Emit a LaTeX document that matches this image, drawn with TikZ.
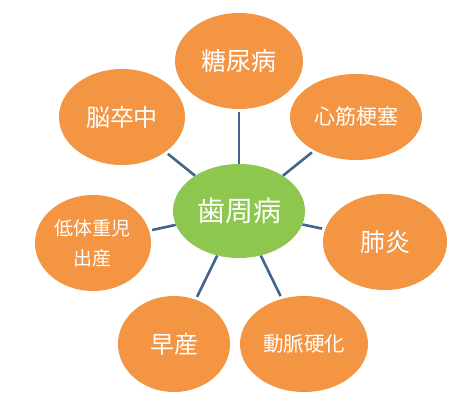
\documentclass[tikz,border=0pt]{standalone}
\usepackage{fontspec}
\newfontfamily\cjk{Noto Sans CJK JP}
\usetikzlibrary{shapes.geometric}
\definecolor{orng}{HTML}{F39543}
\definecolor{grn}{HTML}{8DC74F}
\definecolor{lnk}{HTML}{44648C}
\begin{document}
\begin{tikzpicture}[x=1pt,y=-1pt,
  blob/.style={ellipse, fill=orng, inner sep=0pt, text=white, align=center},
  hub/.style={ellipse, fill=grn, inner sep=0pt, text=white,
    minimum width=132pt, minimum height=94pt,
    font=\cjk\fontsize{28}{32}\selectfont},
  link/.style={draw=lnk, line width=2.6pt, shorten <=3pt}]
\fill[white] (0,0) rectangle (475,402);
\useasboundingbox (0,0) rectangle (475,402);
\node[hub] (c) at (239,211) {歯周病};
\node[blob, minimum width=128pt, minimum height=96pt, font=\cjk\fontsize{25}{30}\selectfont] (t) at (239,61) {糖尿病};
\node[blob, minimum width=126pt, minimum height=96pt, font=\cjk\fontsize{24}{30}\selectfont] (ul) at (122,117) {脳卒中};
\node[blob, minimum width=132pt, minimum height=86pt, font=\cjk\fontsize{21}{26}\selectfont] (ur) at (356,117) {心筋梗塞};
\node[blob, minimum width=116pt, minimum height=96pt, font=\cjk\fontsize{19}{30}\selectfont] (l) at (93,243) {低体重児\\出産};
\node[blob, minimum width=124pt, minimum height=96pt, font=\cjk\fontsize{25}{30}\selectfont] (r) at (385,242) {肺炎};
\node[blob, minimum width=112pt, minimum height=96pt, font=\cjk\fontsize{24}{30}\selectfont] (bl) at (174,344) {早産};
\node[blob, minimum width=128pt, minimum height=96pt, font=\cjk\fontsize{20.5}{26}\selectfont] (br) at (304,344) {動脈硬化};
\draw[link] (t) -- (c);
\draw[link] (ul) -- (c);
\draw[link] (ur) -- (c);
\draw[link] (l) -- (c);
\draw[link] (r) -- (c);
\draw[link] (bl) -- (c);
\draw[link] (br) -- (c);
\end{tikzpicture}
\end{document}
